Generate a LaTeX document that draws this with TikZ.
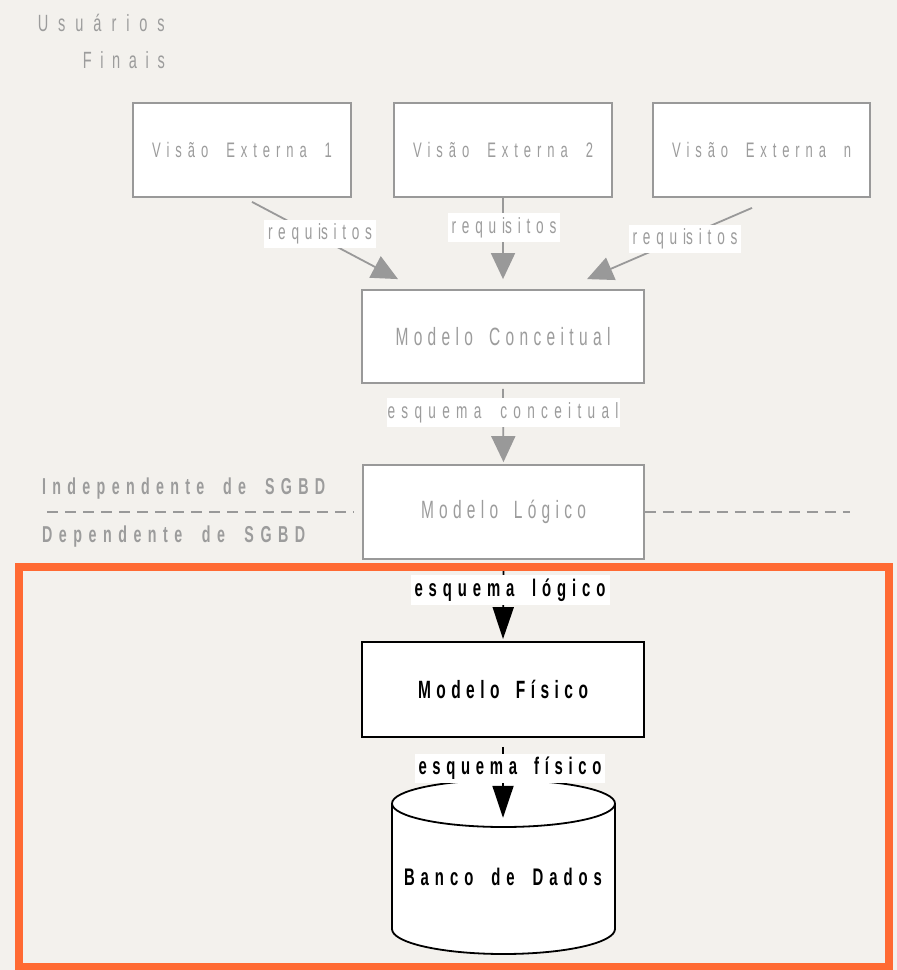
\documentclass[tikz,border=0pt]{standalone}
\usepackage{fontspec}
\setmainfont{Liberation Sans}[FakeStretch=0.62]
\usetikzlibrary{arrows.meta,calc}
\definecolor{bg}{HTML}{F3F1ED}
\definecolor{gtxt}{HTML}{9C9C9C}
\definecolor{gline}{HTML}{999999}
\definecolor{orng}{HTML}{FF6A33}
\newcommand\spr[2]{\makebox[#1pt][s]{#2}}
\tikzset{
  gbox/.style={draw=gline, line width=1.8pt, fill=white, text=gtxt, inner sep=0pt},
  bbox/.style={draw=black, line width=1.8pt, fill=white, text=black, inner sep=0pt, font=\bfseries},
  glab/.style={fill=white, text=gtxt, inner sep=0pt},
  blab/.style={fill=white, text=black, inner sep=0pt, font=\bfseries},
  garrow/.style={draw=gline, line width=1.8pt, -{Triangle[length=26pt,width=24pt]}},
  barrow/.style={draw=black, line width=1.8pt, -{Triangle[length=32pt,width=21pt]}},
  gdash/.style={draw=gline, line width=1.5pt, dash pattern=on 11pt off 7pt},
  gnote/.style={text=gtxt, inner sep=0pt},
}
\begin{document}
\begin{tikzpicture}[x=1pt,y=-1pt]
\fill[bg] (0,0) rectangle (897,970);
\useasboundingbox (0,0) rectangle (897,970);

% end users
\node[gnote, anchor=east, font=\fontsize{23.5}{27}\selectfont] (u1) at (165,23) {\spr{127}{U s u á r i o s}};
\node[gnote, anchor=east, font=\fontsize{23.5}{27}\selectfont] (u2) at (165,60) {\spr{82}{F i n a i s}};

% external views
\node[gbox, minimum width=218pt, minimum height=94pt, font=\fontsize{21}{24}\selectfont] (v1) at (242,150) {\spr{180}{V i s ã o ~ E x t e r n a ~ 1}};
\node[gbox, minimum width=218pt, minimum height=94pt, font=\fontsize{21}{24}\selectfont] (v2) at (503,150) {\spr{180}{V i s ã o ~ E x t e r n a ~ 2}};
\node[gbox, minimum width=217pt, minimum height=94pt, font=\fontsize{21}{24}\selectfont] (vn) at (761.5,150) {\spr{179}{V i s ã o ~ E x t e r n a ~ n}};

% models
\node[gbox, minimum width=282pt, minimum height=93pt, font=\fontsize{25}{28}\selectfont] (mc) at (503,336.5) {\spr{215}{M o d e l o ~ C o n c e i t u a l}};
\node[gbox, minimum width=281pt, minimum height=94pt, font=\fontsize{25}{28}\selectfont] (ml) at (503.5,512) {\spr{165}{M o d e l o ~ L ó g i c o}};
\node[bbox, minimum width=282pt, minimum height=95pt, font=\bfseries\fontsize{25}{28}\selectfont] (mf) at (503,689.5) {\spr{170}{M o d e l o ~ F í s i c o}};

% database cylinder
\path[fill=white, draw=black, line width=1.8pt] (392,803.5) -- (392,929) arc[start angle=180, end angle=0, x radius=111.5, y radius=25] -- (615,803.5);
\draw[fill=white, draw=black, line width=1.8pt] (503.5,803.5) ellipse[x radius=111.5, y radius=23.5];
\node[text=black, inner sep=0pt, minimum height=118pt, font=\bfseries\fontsize{24}{27}\selectfont] (db) at (503,877) {\spr{198}{B a n c o ~ d e ~ D a d o s}};

% independence line
\coordinate (dl) at (47,512);
\coordinate (dr) at (850,512);
\draw[gdash, shorten >=8pt] (dl) -- (ml.west);
\draw[gdash] (ml.east) -- (dr);
\node[gnote, anchor=west, font=\bfseries\fontsize{23}{26}\selectfont] (ind) at (42,489) {\spr{283}{I n d e p e n d e n t e ~ d e ~ S G B D}};
\node[gnote, anchor=west, font=\bfseries\fontsize{23}{26}\selectfont] (dep) at (42,537) {\spr{263}{D e p e n d e n t e ~ d e ~ S G B D}};

% arrows
\coordinate (a1s) at ($(v1.south)+(10,4)$);
\coordinate (a3s) at ($(vn.south)+(-9.5,10)$);
\coordinate (a1e) at ($(mc.north)+(-105,-10)$);
\coordinate (a3e) at ($(mc.north)+(84,-10)$);
\draw[garrow] (a1s) -- (a1e);
\draw[garrow, shorten >=10pt] (v2.south) -- (v2.south |- mc.north);
\draw[garrow] (a3s) -- (a3e);
\draw[garrow, shorten <=5pt, shorten >=2pt] (mc.south) -- (ml.north);
\draw[barrow, shorten <=11pt, shorten >=2pt] (ml.south) -- (mf.north);
\draw[barrow, shorten <=9pt] (mf.south) -- (db.north);

% labels
\node[glab, minimum width=112pt, minimum height=28pt, font=\fontsize{22}{24}\selectfont] (r1) at (320,234) {\spr{104}{r e q u is i t o s}};
\node[glab, minimum width=112pt, minimum height=29pt, font=\fontsize{22}{24}\selectfont] (r2) at (504,227.5) {\spr{105}{r e q u is i t o s}};
\node[glab, minimum width=112pt, minimum height=28pt, font=\fontsize{22}{24}\selectfont] (r3) at (685,239) {\spr{105}{r e q u is i t o s}};
\node[glab, minimum width=233pt, minimum height=29pt, font=\fontsize{22}{24}\selectfont] (ec) at (503,412.5) {\spr{231}{e s q u e m a ~ c o n c e i t u a l}};
\node[blab, minimum width=199pt, minimum height=30pt, font=\bfseries\fontsize{24}{26}\selectfont] (el) at (510,590) {\spr{191}{e s q u e m a ~ l ó g i c o}};
\node[blab, minimum width=190pt, minimum height=29pt, font=\bfseries\fontsize{24}{26}\selectfont] (ef) at (510,768) {\spr{183}{e s q u e m a ~ f í s i c o}};

% highlight frame
\draw[orng, line width=7.5pt] (19,567) rectangle (889,967);
\end{tikzpicture}
\end{document}
